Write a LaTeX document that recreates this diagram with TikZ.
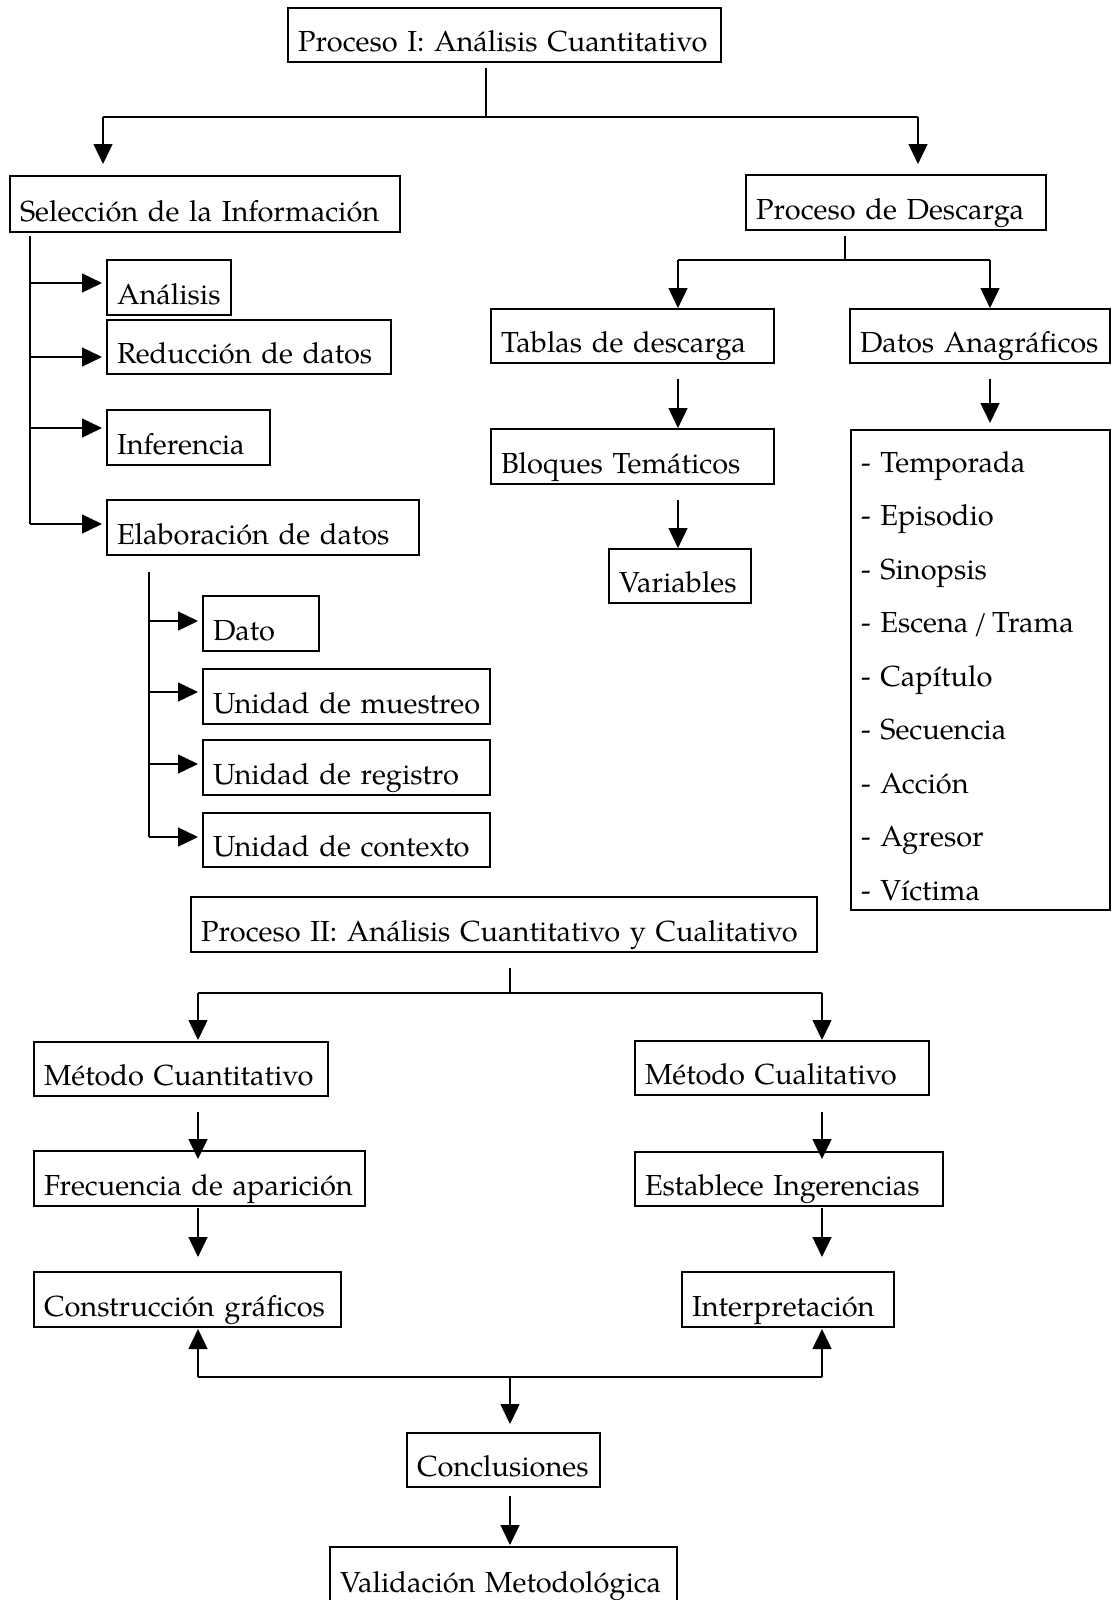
\documentclass[tikz,border=0pt]{standalone}
\usepackage{fontspec}
\setmainfont{texgyrepagella}[Extension=.otf, UprightFont=*-regular, BoldFont=*-bold, ItalicFont=*-italic, BoldItalicFont=*-bolditalic, WordSpace=0.85]
\usetikzlibrary{arrows.meta}

% box from (x1,y1) to (x2,y2), text set on a low baseline near the bottom edge
\newcommand\mkbox[6]{%
  \pgfmathsetmacro\bxw{#4-#2-20}%
  \pgfmathsetmacro\bxh{#5-#3-10.5}%
  \node[box, text width=\bxw pt, text height=\bxh pt] (#1) at (#2,#3) {\mbox{#6}};}

\begin{document}
\begin{tikzpicture}[x=1pt,y=-1pt,
  every node/.style={font=\fontsize{29}{34}\selectfont},
  box/.style={draw, line width=1.8pt, anchor=north west, outer sep=0pt,
    inner xsep=10pt, inner ysep=0pt, align=left, text depth=10.5pt},
  link/.style={line width=1.3pt},
  bus/.style={line width=1.8pt},
  arr/.style={line width=1.4pt, -{Triangle[length=20pt,width=19pt]}},
]
\fill[white] (0,0) rectangle (1111,1600);
\useasboundingbox (0,0) rectangle (1111,1600);
\clip (0,0) rectangle (1111,1600);

% ---- Process I ----
\mkbox{p1}{288}{8}{721}{62}{Proceso I: Análisis Cuantitativo}
\mkbox{sel}{10}{176}{400}{232}{Selección de la Información}
\mkbox{desc}{746}{175}{1046}{230}{Proceso de Descarga}
\mkbox{ana}{107}{260}{231}{315}{Análisis}
\mkbox{red}{107}{320}{391}{374}{Reducción de datos}
\mkbox{inf}{107}{410}{270}{465}{Inferencia}
\mkbox{ela}{107}{500}{419}{555}{Elaboración de datos}
\mkbox{dato}{203}{596}{319}{651}{Dato}
\mkbox{um}{203}{669}{490}{724}{Unidad de muestreo}
\mkbox{ur}{203}{740}{490}{795}{Unidad de registro}
\mkbox{uc}{203}{813}{490}{867}{Unidad de contexto}
\mkbox{tab}{491}{309}{774}{363}{Tablas de descarga}
\mkbox{bloq}{491}{429}{774}{484}{Bloques Temáticos}
\mkbox{var}{609}{549}{751}{603}{Variables}
\mkbox{dan}{850}{309}{1110}{363}{Datos Anagráficos}
\node[box, text width=239pt, text height=42pt, text depth=438pt,
  font=\fontsize{29}{53.5}\selectfont] (lst) at (851,430)
  {- Temporada\\- Episodio\\- Sinopsis\\- Escena\,/\,Trama\\- Capítulo\\- Secuencia\\- Acción\\- Agresor\\- Víctima};

% top split
\coordinate (t0) at (486,117);
\coordinate (tl) at (103,117);
\coordinate (tr) at (918,117);
\draw[link, shorten <=6pt] (p1.south -| t0) -- (t0);
\draw[bus] (tl) -- (tr);
\draw[arr, shorten >=12pt] (tl) -- (tl |- sel.north);
\draw[arr, shorten >=11pt] (tr) -- (tr |- desc.north);

% selection trunk
\coordinate (s1) at (30,283);
\coordinate (s2) at (30,357);
\coordinate (s3) at (30,428);
\coordinate (s4) at (30,524);
\draw[link, shorten <=4pt] (sel.south -| s4) -- (s4);
\draw[arr, shorten >=5pt] (s1) -- (s1 -| ana.west);
\draw[arr, shorten >=5pt] (s2) -- (s2 -| red.west);
\draw[arr, shorten >=5pt] (s3) -- (s3 -| inf.west);
\draw[arr, shorten >=5pt] (s4) -- (s4 -| ela.west);

% elaboration trunk
\coordinate (e1) at (149,621);
\coordinate (e2) at (149,692);
\coordinate (e3) at (149,764);
\coordinate (e4) at (149,837);
\draw[link, shorten <=17pt] (ela.south -| e4) -- (e4);
\draw[arr, shorten >=5pt] (e1) -- (e1 -| dato.west);
\draw[arr, shorten >=5pt] (e2) -- (e2 -| um.west);
\draw[arr, shorten >=5pt] (e3) -- (e3 -| ur.west);
\draw[arr, shorten >=5pt] (e4) -- (e4 -| uc.west);

% download branch
\coordinate (d0) at (845,260);
\coordinate (dl) at (678,260);
\coordinate (dr) at (990,260);
\draw[link, shorten <=6pt] (desc.south -| d0) -- (d0);
\draw[bus] (dl) -- (dr);
\draw[arr, shorten >=1pt] (dl) -- (dl |- tab.north);
\draw[arr, shorten >=1pt] (dr) -- (dr |- dan.north);
\draw[arr, shorten <=16pt, shorten >=1pt] (tab.south -| dl) -- (bloq.north -| dl);
\draw[arr, shorten <=16pt, shorten >=1pt] (bloq.south -| dl) -- (var.north -| dl);
\draw[arr, shorten <=16pt, shorten >=7pt] (dan.south -| dr) -- (lst.north -| dr);

% ---- Process II ----
\mkbox{p2}{191}{897}{817}{952}{Proceso II: Análisis Cuantitativo y Cualitativo}
\mkbox{mcn}{34}{1042}{328}{1096}{Método Cuantitativo}
\mkbox{mcl}{635}{1041}{929}{1095}{Método Cualitativo}
\mkbox{frec}{34}{1151}{365}{1206}{Frecuencia de aparición}
\mkbox{est}{635}{1152}{943}{1206}{Establece Ingerencias}
\mkbox{con}{34}{1272}{341}{1327}{Construcción gráficos}
\mkbox{int}{682}{1272}{894}{1327}{Interpretación}
\mkbox{concl}{407}{1433}{600}{1487}{Conclusiones}
\mkbox{val}{330}{1547}{677}{1603}{Validación Metodológica}

\coordinate (q0) at (510,993);
\coordinate (ql) at (198,993);
\coordinate (qr) at (822,993);
\draw[link, shorten <=16pt] (p2.south -| q0) -- (q0);
\draw[bus] (ql) -- (qr);
\draw[arr, shorten >=2pt] (ql) -- (ql |- mcn.north);
\draw[arr, shorten >=1pt] (qr) -- (qr |- mcl.north);
\draw[arr, shorten <=16pt, shorten >=-8pt] (mcn.south -| ql) -- (frec.north -| ql);
\draw[arr, shorten <=17pt, shorten >=-7pt] (mcl.south -| qr) -- (est.north -| qr);
\draw[arr, shorten <=2pt, shorten >=15pt] (frec.south -| ql) -- (con.north -| ql);
\draw[arr, shorten <=2pt, shorten >=15pt] (est.south -| qr) -- (int.north -| qr);

\coordinate (r0) at (510,1377);
\coordinate (rl) at (198,1377);
\coordinate (rr) at (822,1377);
\draw[bus] (rl) -- (rr);
\draw[arr, shorten >=2pt] (rl) -- (rl |- con.south);
\draw[arr, shorten >=2pt] (rr) -- (rr |- int.south);
\draw[arr, shorten >=9pt] (r0) -- (r0 |- concl.north);
\draw[arr, shorten <=9pt, shorten >=2pt] (concl.south -| r0) -- (val.north -| r0);
\end{tikzpicture}
\end{document}
